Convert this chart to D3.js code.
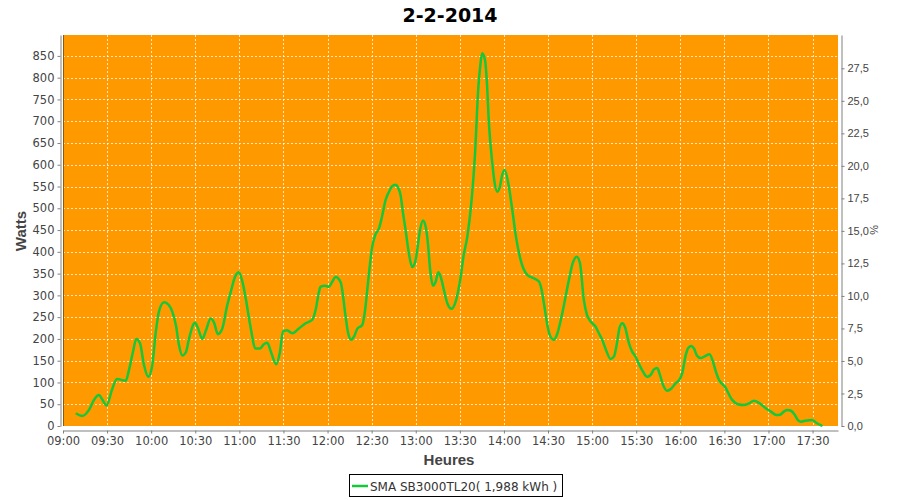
<!DOCTYPE html>
<html>
<head>
<meta charset="utf-8">
<script src="https://cdn.jsdelivr.net/npm/d3@7"></script>
<style>
  html, body { margin: 0; padding: 0; background: #ffffff; }
  svg { display: block; }
</style>
</head>
<body>
<svg id="chart" width="900" height="500"></svg>
<script>
// ---- Data (minutes after 09:00, Watts) ----
const minutesAfter0900 = [
  9.3, 12.9, 17.7, 21.1, 24.5, 26.5, 29.7, 33.3, 36.7, 42.7, 44.9, 47.6, 49.9, 52.4, 55.1, 58.0,
  60.5, 63.3, 65.3, 68.7, 71.4, 74.4, 76.9, 78.9, 81.2, 83.7, 85.7, 89.8, 91.8, 94.8, 97.3, 100.5,
  102.7, 105.4, 108.2, 111.6, 114.3, 117.0, 119.7, 121.8, 124.5, 127.2, 131.1, 134.0, 136.7, 139.0,
  141.5, 145.1, 147.6, 149.7, 152.4, 156.0, 160.5, 165.1, 169.6, 172.1, 174.2, 175.3, 178.2, 180.9,
  183.0, 185.5, 188.9, 192.3, 193.9, 196.1, 198.0, 200.2, 203.6, 205.5, 207.0, 210.4, 212.6, 215.0,
  217.0, 219.5, 221.8, 223.8, 226.3, 227.9, 229.7, 231.3, 233.1, 235.4, 237.6, 239.5, 241.0, 242.9,
  244.9, 246.6, 247.8, 250.2, 251.7, 253.4, 255.4, 257.2, 259.2, 261.5, 264.4, 267.2, 270.6, 272.5,
  275.1, 278.0, 280.3, 282.5, 284.0, 285.2, 287.1, 288.4, 289.8, 292.1, 293.6, 295.5, 297.3, 298.7,
  300.5, 303.0, 305.7, 308.0, 311.4, 315.9, 320.4, 323.8, 325.5, 327.2, 330.2, 331.7, 334.0, 336.1,
  339.7, 344.2, 346.9, 349.5, 351.7, 354.4, 356.5, 359.0, 362.4, 364.6, 366.9, 369.4, 372.6, 374.9,
  376.9, 378.6, 380.5, 382.3, 385.1, 387.1, 389.6, 391.9, 394.6, 397.5, 400.0, 402.1, 404.3, 406.1,
  408.2, 411.1, 413.6, 416.8, 419.1, 421.3, 423.5, 425.2, 427.4, 429.3, 431.3, 433.8, 436.7, 439.9,
  442.2, 444.2, 446.3, 450.4, 455.3, 459.2, 463.3, 466.7, 470.1, 473.5, 478.1, 481.7, 485.3, 487.8,
  490.5, 492.7, 495.3, 498.0, 499.7, 501.8, 504.8, 507.5, 509.8, 512.3, 514.3, 516.1
];
const watts = [
  28, 23, 37, 60, 71, 62, 47, 83, 108, 104, 129, 170, 200, 190, 140, 113,
  135, 220, 263, 284, 280, 262, 230, 186, 162, 170, 200, 237, 225, 200, 220, 247,
  238, 211, 222, 275, 310, 342, 353, 335, 290, 235, 178, 178, 188, 191,
  170, 142, 170, 217, 220, 213, 224, 236, 244, 270, 309, 320, 322, 320,
  330, 342, 330, 251, 215, 198, 205, 223, 232, 265, 312, 412, 440, 454,
  480, 519, 538, 550, 554, 548, 530, 490, 450, 395, 365, 375, 404, 450,
  472, 460, 435, 347, 322, 330, 353, 340, 312, 282, 269, 286, 343, 390,
  435, 519, 623, 772, 830, 856, 841, 790, 695, 603, 560, 538, 550, 575,
  588, 557, 496, 439, 381, 347, 339, 332, 315, 282, 221, 205, 198, 210,
  259, 335, 375, 389, 375, 289, 255, 240, 228, 213, 198, 175, 154, 160,
  190, 225, 236, 228, 190, 172, 159, 142, 125, 113, 118, 130, 133, 118,
  95, 81, 85, 98, 105, 121, 160, 178, 184, 178, 162, 156, 160, 165,
  148, 125, 106, 90, 60, 50, 48, 52, 58, 53, 41, 33, 25, 26,
  33, 37, 35, 25, 15, 10, 12, 13, 14, 8, 4, 1
];
const leftTicks = [0, 50, 100, 150, 200, 250, 300, 350, 400, 450, 500, 550, 600, 650, 700, 750, 800, 850];
const rightTicks = [0, 2.5, 5, 7.5, 10, 12.5, 15, 17.5, 20, 22.5, 25, 27.5];
const timeTicks = ["09:00","09:30","10:00","10:30","11:00","11:30","12:00","12:30","13:00",
                   "13:30","14:00","14:30","15:00","15:30","16:00","16:30","17:00","17:30"];
const titleText = "2-2-2014";
const seriesName = "SMA SB3000TL20( 1,988 kWh )";

// ---- Build ----
const base = new Date(2014, 1, 2, 9, 0, 0);
const toDate = m => new Date(base.getTime() + m * 60000);
const parseHM = s => { const [h, m] = s.split(":").map(Number); return new Date(2014, 1, 2, h, m, 0); };
const data = minutesAfter0900.map((m, i) => ({ t: toDate(m), v: watts[i] }));

const plot = { left: 63, right: 838, top: 35, bottom: 426 };
const svg = d3.select("#chart");

const x = d3.scaleTime()
  .domain([base, toDate(527.3)])
  .range([plot.left, plot.right]);
const yL = d3.scaleLinear().domain([0, 898]).range([plot.bottom, plot.top]);
const yR = d3.scaleLinear().domain([0, 30.06]).range([plot.bottom, plot.top]);

// background
svg.append("rect").attr("x", 0).attr("y", 0).attr("width", 900).attr("height", 500).attr("fill", "#ffffff");

// plot area
svg.append("rect")
  .attr("x", plot.left).attr("y", plot.top)
  .attr("width", plot.right - plot.left).attr("height", plot.bottom - plot.top)
  .attr("fill", "#ff9900");

// grid
const grid = svg.append("g").attr("stroke", "#ffffff").attr("stroke-opacity", 0.75)
  .attr("stroke-width", 1).attr("stroke-dasharray", "2,2");
grid.selectAll("line.v").data(timeTicks.map(parseHM)).join("line")
  .attr("x1", d => Math.round(x(d)) + 0.5).attr("x2", d => Math.round(x(d)) + 0.5)
  .attr("y1", plot.top).attr("y2", plot.bottom);
grid.selectAll("line.h").data(leftTicks.filter(d => d > 0)).join("line")
  .attr("x1", plot.left).attr("x2", plot.right)
  .attr("y1", d => Math.round(yL(d)) + 0.5).attr("y2", d => Math.round(yL(d)) + 0.5);

// plot outline (left edge darker)
svg.append("line").attr("x1", plot.left + 0.5).attr("x2", plot.left + 0.5)
  .attr("y1", plot.top).attr("y2", plot.bottom).attr("stroke", "#8a5a10").attr("stroke-width", 1);

// line
const line = d3.line().x(d => x(d.t)).y(d => yL(d.v)).curve(d3.curveMonotoneX);
svg.append("path").datum(data)
  .attr("d", line).attr("fill", "none")
  .attr("stroke", "#14c83a").attr("stroke-width", 2.5)
  .attr("stroke-linejoin", "round").attr("stroke-linecap", "round");

// axes
const tickFont = "DejaVu Sans, sans-serif";
const styleAxis = g => {
  g.select(".domain").attr("stroke", "#808080");
  g.selectAll(".tick line").attr("stroke", "#808080");
  g.selectAll(".tick text").attr("fill", "#444444").attr("font-family", tickFont).attr("font-size", 11.5);
};

const leftAxis = d3.axisLeft(yL).tickValues(leftTicks).tickSizeInner(3).tickSizeOuter(0).tickPadding(3)
  .tickFormat(d3.format("d"));
svg.append("g").attr("transform", "translate(60.5,0)").call(leftAxis).call(styleAxis);

const bottomAxis = d3.axisBottom(x).tickValues(timeTicks.map(parseHM)).tickSizeInner(3).tickSizeOuter(0).tickPadding(3)
  .tickFormat(d3.timeFormat("%H:%M"));
svg.append("g").attr("transform", "translate(0,430.5)").call(bottomAxis).call(styleAxis);

const rightAxis = d3.axisRight(yR).tickValues(rightTicks).tickSizeInner(3).tickSizeOuter(0).tickPadding(3)
  .tickFormat(d => d3.format(".1f")(d).replace(".", ","));
svg.append("g").attr("transform", "translate(841.5,0)").call(rightAxis).call(styleAxis)
  .call(g => g.selectAll(".tick text").attr("font-family", "Liberation Sans, Arial, sans-serif").attr("font-size", 11));

svg.selectAll(".domain").attr("stroke-width", 1);

// title
svg.append("text").attr("x", 450).attr("y", 22).attr("text-anchor", "middle")
  .attr("font-family", "DejaVu Sans, sans-serif").attr("font-weight", "bold").attr("font-size", 19)
  .attr("fill", "#000000").text(titleText);

// axis labels
svg.append("text").attr("transform", "translate(26,231) rotate(-90)").attr("text-anchor", "middle")
  .attr("font-family", "Liberation Sans, Arial, sans-serif").attr("font-weight", "bold").attr("font-size", 15)
  .attr("fill", "#444444").text("Watts");
svg.append("text").attr("x", 449).attr("y", 465).attr("text-anchor", "middle")
  .attr("font-family", "Liberation Sans, Arial, sans-serif").attr("font-weight", "bold").attr("font-size", 15)
  .attr("fill", "#444444").text("Heures");
svg.append("text").attr("transform", "translate(870,230) rotate(90)").attr("text-anchor", "middle")
  .attr("font-family", "Liberation Sans, Arial, sans-serif").attr("font-size", 11)
  .attr("fill", "#444444").text("%");

// legend
const lg = svg.append("g");
lg.append("rect").attr("x", 349.5).attr("y", 474.5).attr("width", 213).attr("height", 22)
  .attr("fill", "#ffffff").attr("stroke", "#000000").attr("stroke-width", 1);
lg.append("line").attr("x1", 352).attr("x2", 368).attr("y1", 486).attr("y2", 486)
  .attr("stroke", "#14c83a").attr("stroke-width", 2.5);
lg.append("text").attr("x", 370).attr("y", 490.5)
  .attr("font-family", "DejaVu Sans, sans-serif").attr("font-size", 12)
  .attr("fill", "#333333").text(seriesName);
</script>
</body>
</html>
